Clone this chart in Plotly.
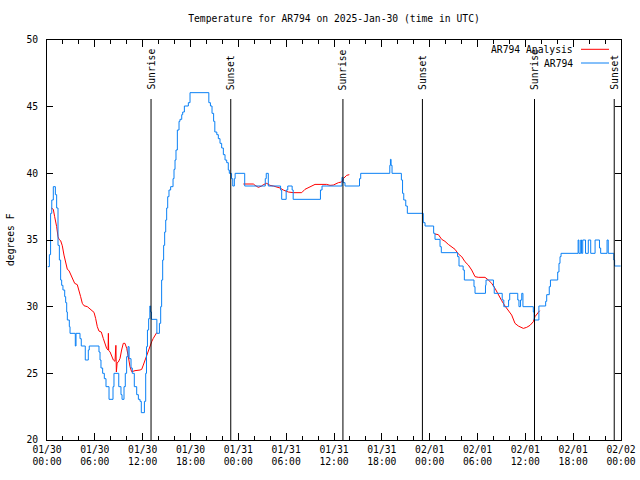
import pandas as pd
import plotly.graph_objects as go

# ---- data (hours since 2025-01-30 00:00 UTC) ----
obs_hours = [0.1, 0.3, 0.45, 0.6, 0.79, 1.05, 1.21, 1.38, 1.55, 1.71, 1.84, 2.0, 2.22, 2.34, 2.47, 2.55,
             2.8, 2.89, 3.55, 3.64, 4.14, 4.3, 4.8, 5.18, 5.3, 6.52, 6.65, 6.77, 6.98, 7.19, 7.4, 7.78,
             8.28, 8.4, 9.0, 9.28, 9.41, 9.66, 9.82, 9.99, 10.16, 10.3, 10.54, 10.7, 10.95, 11.25, 11.46,
             11.67, 11.83, 12.22, 12.38, 12.48, 12.6, 12.75, 12.9, 13.0, 13.1, 13.78, 14.1, 14.26, 14.38,
             14.51, 14.63, 14.76, 14.89, 15.01, 15.14, 15.3, 15.51, 15.81, 15.93, 16.06, 16.18, 16.35,
             16.56, 16.68, 16.9, 17.02, 17.23, 17.73, 17.94, 20.3, 20.5, 20.7, 20.9, 21.05, 21.3, 21.49,
             21.7, 21.91, 22.12, 22.33, 22.54, 22.74, 22.87, 23.15, 23.3, 23.5, 23.6, 24.8, 27.38, 27.5,
             27.76, 29.3, 29.44, 30.0, 30.2, 30.75, 30.88, 34.3, 34.5, 37.0, 37.15, 37.38, 39.2, 39.35,
             43.0, 43.08, 43.16, 43.28, 44.45, 44.6, 44.75, 45.0, 45.2, 47.2, 47.42, 48.5, 48.67, 49.3,
             49.46, 51.5, 51.68, 52.2, 52.35, 53.56, 53.69, 55.0, 55.07, 56.0, 56.1, 57.1, 57.3, 57.9,
             58.04, 59.05, 59.2, 59.4, 59.55, 59.7, 61.0, 61.1, 61.7, 62.55, 62.68, 63.0, 63.15, 64.06,
             64.22, 64.35, 64.48, 66.62, 66.72, 66.95, 67.05, 67.2, 67.55, 67.9, 68.2, 68.75, 69.3, 69.45,
             70.25, 70.4, 71.1, 71.2, 71.95]
obs_temps = [33.0, 33.9, 37.0, 38.0, 39.0, 38.4, 37.4, 34.6, 33.5, 32.0, 31.6, 31.25, 30.75, 30.3, 29.6, 29.0,
             28.5, 28.0, 27.05, 28.0, 27.6, 27.05, 26.0, 26.75, 27.05, 26.6, 26.0, 25.4, 25.0, 24.6, 24.0, 23.05,
             24.0, 25.0, 24.0, 23.4, 23.05, 24.0, 25.0, 26.25, 27.0, 26.1, 25.4, 25.0, 24.0, 23.4, 23.05,
             22.9, 22.05, 22.9, 25.0, 27.0, 28.25, 29.1, 30.05, 29.6, 29.05, 28.0, 28.75, 30.0, 32.0,
             33.5, 34.6, 35.6, 36.5, 37.4, 38.25, 38.75, 39.0, 39.6, 40.3, 41.0, 41.75, 43.25,
             43.9, 44.05, 44.4, 44.6, 45.05, 45.3, 46.05, 45.3, 45.05, 44.5, 43.9, 43.1, 42.9, 42.6,
             42.25, 41.9, 41.4, 41.0, 40.8, 40.25, 40.0, 39.6, 39.05, 39.6, 40.0, 39.05, 39.6, 40.0,
             39.05, 38.75, 38.05, 38.75, 39.05, 38.75, 38.05, 38.75, 39.05, 39.7, 39.3, 39.05, 39.6, 40.0,
             40.6, 41.05, 40.6, 40.0, 39.5, 38.5, 38.0, 37.55, 37.0, 36.3, 36.05, 35.5, 35.05, 34.5,
             34.05, 33.75, 33.05, 32.75, 32.0, 31.5, 31.0, 31.6, 32.0, 31.5, 31.0, 30.5, 30.0, 30.5,
             31.0, 30.5, 30.0, 30.5, 31.0, 30.0, 29.6, 29.0, 30.05, 30.4, 30.9, 31.5, 32.0, 32.6,
             33.25, 33.75, 34.0, 35.0, 34.0, 35.0, 34.0, 35.0, 34.0, 35.0, 34.0, 35.0, 34.4, 34.0,
             35.0, 34.0, 33.5, 33.05, 33.05]

ana_hours = [0.54, 0.79, 0.96, 1.09, 1.21, 1.38, 1.51, 1.71, 1.92, 2.13, 2.34, 2.55, 2.76, 2.97, 3.18, 3.47,
             3.8, 4.01, 4.22, 4.43, 4.64, 5.06, 5.48, 5.9, 6.1, 6.31, 6.52, 6.81, 7.06, 7.28, 7.48, 7.66,
             7.7, 7.74, 7.9, 8.11, 8.32, 8.53, 8.64, 8.7, 8.8, 8.95, 9.16, 9.36, 9.57, 9.78, 10.0, 10.2,
             10.41, 10.62, 11.04, 11.67, 11.88, 12.08, 12.29, 12.5, 12.71, 12.92, 13.13, 13.33, 13.55, 13.76,
             None,
             24.63, 25.88, 26.09, 26.51, 26.93, 27.13, 27.56, 27.97, 28.39, 29.23, 29.64, 30.27, 30.9, 31.95,
             32.36, 32.99, 33.62, 35.08, 35.5, 35.91, 36.34, 36.55, 36.96, 37.17, 37.59, 37.92,
             None,
             48.67, 49.09, 49.51, 49.92, 50.34, 50.76, 51.18, 51.6, 52.02, 52.43, 52.85, 53.27, 53.69, 54.1,
             54.94, 55.36, 55.78, 56.2, 56.61, 57.03, 57.45, 57.87, 58.29, 58.7, 59.12, 59.75, 60.17, 60.59,
             61.0, 61.21, 61.63, 61.8]
ana_temps = [37.4, 37.3, 36.75, 36.4, 36.0, 35.25, 35.05, 34.95, 34.57, 33.87, 33.25, 32.8, 32.7, 32.42, 32.12, 31.75,
             31.65, 31.25, 30.75, 30.25, 30.07, 30.0, 29.75, 29.57, 29.12, 28.5, 28.17, 28.1, 27.62, 27.25, 26.87, 26.75,
             28.0, 26.7, 26.62, 26.25, 26.0, 25.9, 27.1, 25.1, 25.8, 25.85, 26.12, 26.75, 27.25, 27.25, 26.87, 26.25,
             25.5, 25.12, 25.2, 25.25, 25.3, 25.62, 26.0, 26.37, 26.75, 27.0, 27.37, 27.62, 27.87, 28.05,
             None,
             39.2, 39.2, 39.1, 38.95, 39.05, 39.15, 39.25, 39.1, 39.05, 38.9, 38.75, 38.6, 38.55, 38.55,
             38.8, 39.0, 39.17, 39.17, 39.1, 39.12, 39.25, 39.3, 39.35, 39.6, 39.85, 39.9,
             None,
             35.45, 35.4, 35.05, 34.9, 34.67, 34.45, 34.3, 33.95, 33.75, 33.37, 33.12, 32.75, 32.25, 32.2,
             32.2, 32.0, 31.75, 31.37, 30.87, 30.45, 30.05, 29.75, 29.37, 28.75, 28.55, 28.37, 28.45, 28.6,
             28.87, 29.25, 29.6, 29.7]

sun_hours = [13.05, 23.05, 37.12, 47.09, 61.15, 71.15]
sun_labels = ["Sunrise", "Sunset", "Sunrise", "Sunset", "Sunrise", "Sunset"]

title_text = "Temperature for AR794 on 2025-Jan-30 (time in UTC)"
ylabel = "degrees F"
series_names = ["AR794 Analysis", "AR794"]

# ---- build ----
base = pd.Timestamp("2025-01-30 00:00")
def to_time(hs):
    return [None if h is None else base + pd.Timedelta(hours=h) for h in hs]

FONT = "DejaVu Sans Mono"
FS = 9.7
RED = "#ff0000"
BLUE = "#0a80f5"
L, R, T, B = 47, 621, 40, 440
PW, PH = R - L, B - T

fig = go.Figure()
fig.add_trace(go.Scatter(x=to_time(ana_hours), y=ana_temps, mode="lines",
                         line=dict(color=RED, width=1), name=series_names[0],
                         connectgaps=False, showlegend=False))
fig.add_trace(go.Scatter(x=to_time(obs_hours), y=obs_temps, mode="lines",
                         line=dict(color=BLUE, width=1, shape="hv"), name=series_names[1],
                         showlegend=False))

line_top = (B - 99) / PH
for h, lab in zip(sun_hours, sun_labels):
    t = base + pd.Timedelta(hours=h)
    fig.add_shape(type="line", xref="x", yref="paper", x0=t, x1=t, y0=0, y1=line_top,
                  line=dict(color="black", width=1))
    fig.add_annotation(x=t, y=(B - 92) / PH, xref="x", yref="paper", text=lab,
                       textangle=-90, showarrow=False, xanchor="center", yanchor="bottom",
                       font=dict(family=FONT, size=FS, color="black"))

# legend (gnuplot style, top-right inside)
legend_rows = [(series_names[0], RED, 49.3), (series_names[1], BLUE, 63.0)]
for name, col, ypx in legend_rows:
    yp = (B - ypx) / PH
    fig.add_annotation(x=(575 - L) / PW, y=yp, xref="paper", yref="paper", text=name,
                       showarrow=False, xanchor="right", yanchor="middle",
                       font=dict(family=FONT, size=FS, color="black"))
    fig.add_shape(type="line", xref="paper", yref="paper",
                  x0=(581 - L) / PW, x1=(609 - L) / PW, y0=yp, y1=yp,
                  line=dict(color=col, width=1))

# y-axis label as rotated text
fig.add_annotation(x=(10 - L) / PW, y=0.5, xref="paper", yref="paper", text=ylabel,
                   textangle=-90, showarrow=False, xanchor="center", yanchor="middle",
                   font=dict(family=FONT, size=FS, color="black"))

fig.update_layout(
    width=640, height=480,
    margin=dict(l=L, r=640 - R, t=T, b=480 - B, autoexpand=False),
    paper_bgcolor="white", plot_bgcolor="white",
    font=dict(family=FONT, size=FS, color="black"),
    title=dict(text=title_text, x=334 / 640, xanchor="center", y=1 - 19 / 480, yanchor="middle",
               font=dict(family=FONT, size=FS, color="black")),
    showlegend=False,
)
fig.update_xaxes(
    type="date", automargin=False,
    range=[base, base + pd.Timedelta(hours=72)],
    dtick=6 * 3600 * 1000, tick0=base,
    tickformat="%m/%d<br>%H:%M",
    ticks="inside", ticklen=7, tickcolor="black", tickwidth=1,
    minor=dict(dtick=2 * 3600 * 1000, tick0=base, ticks="inside", ticklen=4, tickcolor="black"),
    showline=True, linecolor="black", linewidth=1, mirror="ticks",
    showgrid=False, zeroline=False,
    tickfont=dict(family=FONT, size=FS, color="black"),
)
fig.update_yaxes(
    automargin=False,
    range=[20, 50], dtick=5, tick0=20,
    ticks="inside", ticklen=6, tickcolor="black", tickwidth=1,
    showline=True, linecolor="black", linewidth=1, mirror="ticks",
    showgrid=False, zeroline=False,
    ticklabelstandoff=6,
    tickfont=dict(family=FONT, size=FS, color="black"),
)

fig.write_html("out.html", config={"displayModeBar": False},
               post_script="document.body.style.margin='0';")
